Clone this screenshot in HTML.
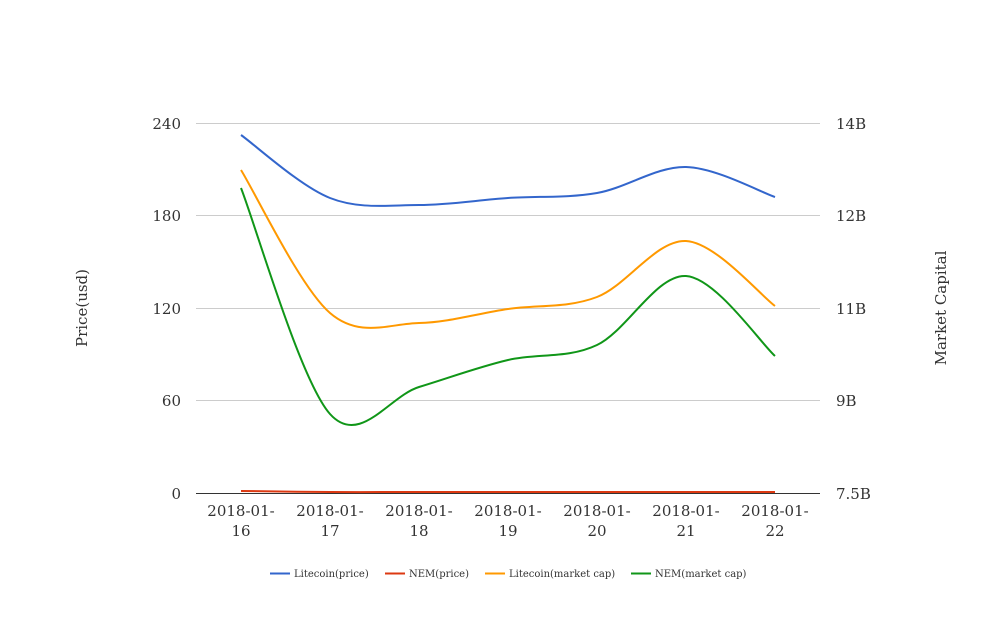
<!DOCTYPE html>
<html><head><meta charset="utf-8"><style>
body{margin:0;background:#fff;}
svg text{font-family:"DejaVu Serif","Liberation Serif",serif;fill:#333;}
</style></head><body>
<svg id="s" width="1008" height="616" xmlns="http://www.w3.org/2000/svg">
<g stroke="#ccc" stroke-width="1">
<line x1="196" x2="820" y1="123.5" y2="123.5"/>
<line x1="196" x2="820" y1="215.5" y2="215.5"/>
<line x1="196" x2="820" y1="308.5" y2="308.5"/>
<line x1="196" x2="820" y1="400.5" y2="400.5"/>
</g>
<line x1="196" x2="820" y1="493.5" y2="493.5" stroke="#333" stroke-width="1"/>
<g font-size="15" text-anchor="end">
<text x="181" y="129">240</text><text x="181" y="221">180</text><text x="181" y="314">120</text><text x="181" y="406">60</text><text x="181" y="499">0</text>
</g>
<g font-size="15" text-anchor="start">
<text x="836" y="129">14B</text><text x="836" y="221">12B</text><text x="836" y="314">11B</text><text x="836" y="406">9B</text><text x="836" y="499">7.5B</text>
</g>
<g font-size="15" text-anchor="middle">
<text x="241" y="516">2018-01-</text><text x="241" y="536">16</text>
<text x="330" y="516">2018-01-</text><text x="330" y="536">17</text>
<text x="419" y="516">2018-01-</text><text x="419" y="536">18</text>
<text x="508" y="516">2018-01-</text><text x="508" y="536">19</text>
<text x="597" y="516">2018-01-</text><text x="597" y="536">20</text>
<text x="686" y="516">2018-01-</text><text x="686" y="536">21</text>
<text x="775" y="516">2018-01-</text><text x="775" y="536">22</text>
</g>
<text font-size="15" transform="translate(87,308) rotate(-90)" text-anchor="middle">Price(usd)</text>
<text font-size="15" transform="translate(946,308) rotate(-90)" text-anchor="middle">Market Capital</text>
<g id="lines" fill="none" stroke-width="2"></g>
<g font-size="10">
<line x1="270" x2="290" y1="573.5" y2="573.5" stroke="#3366cc" stroke-width="2"/><text x="294" y="577">Litecoin(price)</text>
<line x1="385" x2="405" y1="573.5" y2="573.5" stroke="#dc3912" stroke-width="2"/><text x="409" y="577">NEM(price)</text>
<line x1="485" x2="505" y1="573.5" y2="573.5" stroke="#ff9900" stroke-width="2"/><text x="509" y="577">Litecoin(market cap)</text>
<line x1="631" x2="651" y1="573.5" y2="573.5" stroke="#109618" stroke-width="2"/><text x="655" y="577">NEM(market cap)</text>
</g>
</svg>
<script>
var xs=[241,330,419,508,597,686,775];
var series=[
["#dc3912",[491,492,492,492,492,492,492]],
["#109618",[188,414,387,360,345,276,356]],
["#ff9900",[170,313,323,309,297,241,306]],
["#3366cc",[135,198,205,198,193,167,197]]];
var g=document.getElementById('lines');
series.forEach(function(s){
 var y=s[1],d='M'+xs[0]+','+y[0];
 for(var i=0;i<6;i++){
  var y0=y[Math.max(i-1,0)],y3=y[Math.min(i+2,6)];
  var x0=xs[Math.max(i-1,0)],x3=xs[Math.min(i+2,6)];
  var t=6;
  var c1x=xs[i]+(xs[i+1]-x0)/t,c1y=y[i]+(y[i+1]-y0)/t;
  var c2x=xs[i+1]-(x3-xs[i])/t,c2y=y[i+1]-(y3-y[i])/t;
  d+=' C'+c1x+','+c1y+' '+c2x+','+c2y+' '+xs[i+1]+','+y[i+1];
 }
 var p=document.createElementNS('http://www.w3.org/2000/svg','path');
 p.setAttribute('d',d);p.setAttribute('stroke',s[0]);g.appendChild(p);
});
</script>
</body></html>
